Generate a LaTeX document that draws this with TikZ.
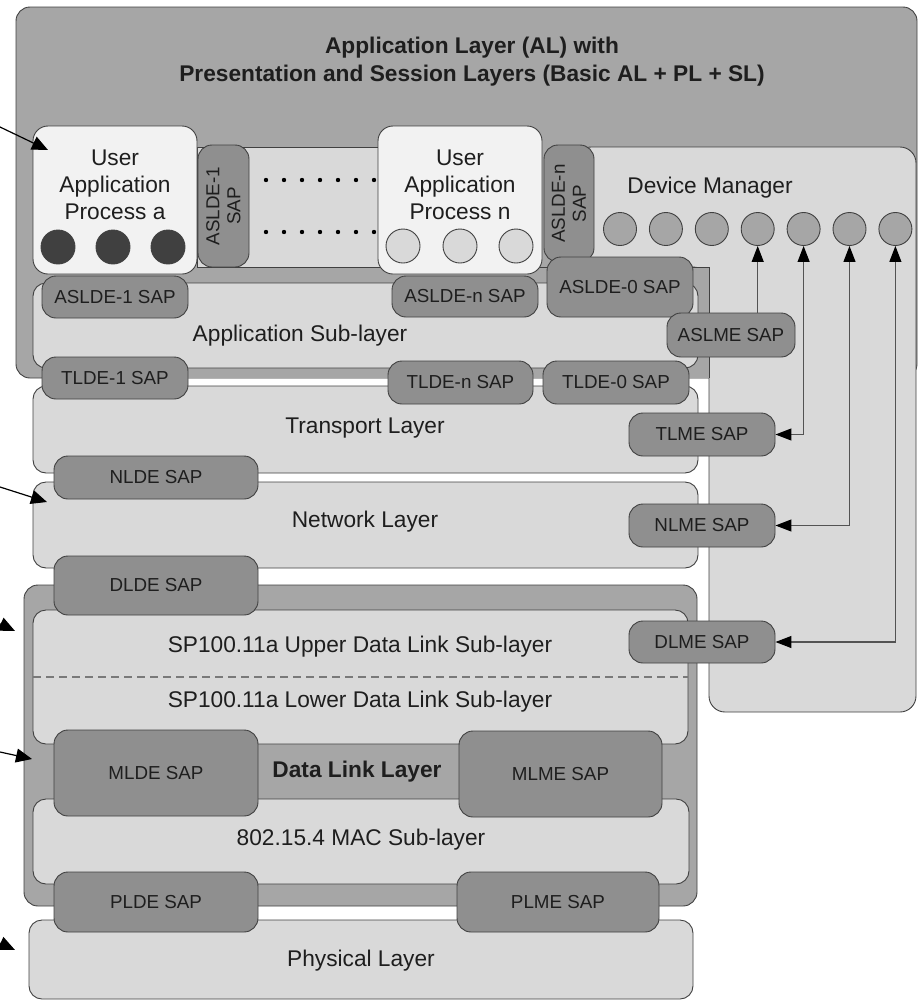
\documentclass[tikz,border=0pt]{standalone}
\usepackage{fontspec}
\setmainfont{Liberation Sans}
\usetikzlibrary{arrows.meta,positioning}
\definecolor{algrey}{HTML}{A6A6A6}
\definecolor{lyrgrey}{HTML}{D9D9D9}
\definecolor{sapgrey}{HTML}{8F8F8F}
\definecolor{edge}{HTML}{404040}
\definecolor{uapfill}{HTML}{F2F2F2}
\definecolor{ink}{HTML}{1E1E1E}

\begin{document}
\begin{tikzpicture}[x=1pt,y=-1pt,>={Triangle[length=16pt,width=12pt,color=black]}]
\tikzset{
  shell/.style={draw=edge, line width=0.9pt, fill=algrey, rounded corners=14pt},
  lyr/.style={draw=edge, line width=0.9pt, fill=lyrgrey, rounded corners=13pt},
  sap/.style={draw=edge, line width=0.9pt, fill=sapgrey, rounded corners=14pt, inner sep=0pt,
    font=\fontsize{18.8}{21}\selectfont, text=ink, align=center},
  uap/.style={draw=edge, line width=0.9pt, fill=uapfill, rounded corners=15pt,
    minimum width=164pt, minimum height=148pt, inner sep=0pt},
  txt/.style={font=\fontsize{22.7}{27}\selectfont, text=ink, align=center, inner sep=0pt},
  hd/.style={font=\bfseries\fontsize{22.7}{28}\selectfont, text=ink, align=center, inner sep=0pt},
  blob/.style={circle, draw=edge, line width=0.9pt, minimum size=34pt, inner sep=0pt},
  mgmt/.style={<->, draw=edge!90!white, line width=1.1pt},
  mgmtup/.style={->, draw=edge!90!white, line width=1.1pt},
  ptr/.style={-{Triangle[length=16pt,width=14pt]}, line width=1.2pt}
}
\useasboundingbox (0,0) rectangle (918,1002);
\clip (0,0) rectangle (918,1002);
% ---------- application layer shell ----------
\draw[shell] (16,7) rectangle (917,378);
\node[hd] (altitle) at (472,62) {Application Layer (AL) with\\Presentation and Session Layers (Basic AL + PL + SL)};
% ---------- device manager ----------
\draw[lyr, rounded corners=16pt] (575,267) -- (575,147) -- (916,147) -- (916,712) -- (709,712) -- (709,267) -- cycle;
\fill[algrey] (120,267) rectangle (709,378);
\draw[draw=edge, line width=0.9pt] (197,267) -| (709,378);
\draw[lyr, sharp corners] (197,147) rectangle (385,267);
\foreach \row in {180,232} \foreach \k in {0,...,6}
  \fill (266+18*\k,\row) circle (2.2);
% ---------- layers ----------
\draw[lyr] (33,283) rectangle (698,368);
\draw[lyr] (33,386) rectangle (698,473);
\draw[lyr] (33,482) rectangle (698,568);
\draw[shell] (24,585) rectangle (697,906);
\draw[lyr] (33,610) rectangle (688,744);
\draw[draw=edge!70!white, line width=1.6pt, dash pattern=on 8pt off 5pt] (33,677) -- (688,677);
\draw[lyr] (33,799) rectangle (689,884);
\draw[lyr] (29,920) rectangle (693,999);
\node[txt] (asltext) at (300,336) {Application Sub-layer};
\node[txt] (tltext) at (365,428) {Transport Layer};
\node[txt] (nltext) at (365,522) {Network Layer};
\node[txt] (udltext) at (360,647) {SP100.11a Upper Data Link Sub-layer};
\node[txt] (ldltext) at (360,702) {SP100.11a Lower Data Link Sub-layer};
\node[hd] (dlltext) at (357,772) {Data Link Layer};
\node[txt] (mactext) at (361,840) {802.15.4 MAC Sub-layer};
\node[txt] (phytext) at (361,961) {Physical Layer};
% ---------- user application processes ----------
\node[uap] (uapa) at (115,200) {};
\node[txt] (uapatext) at (115,185) {User\\Application\\Process a};
\foreach \x [count=\i] in {58,113,168}
  \node[blob, fill=edge] (ua\i) at (\x,247) {};
\node[uap] (uapn) at (460,200) {};
\node[txt] (uapntext) at (460,185) {User\\Application\\Process n};
\foreach \x [count=\i] in {403,460,516}
  \node[blob, fill=lyrgrey] (un\i) at (\x,246) {};
% ---------- service access points ----------
\node[sap, rotate=90, minimum width=122pt, minimum height=51pt] (aslde1v) at (223.5,206) {ASLDE-1\\SAP};
\node[sap, rotate=90, minimum width=117pt, minimum height=50pt] (asldenv) at (569,203.5) {ASLDE-n\\SAP};
\node[sap, minimum width=146pt, minimum height=42pt] (aslde1) at (115,297) {ASLDE-1 SAP};
\node[sap, minimum width=146pt, minimum height=41pt] (asldeN) at (465,296.5) {ASLDE-n SAP};
\node[sap, minimum width=146pt, minimum height=60pt] (aslde0) at (620,287) {ASLDE-0 SAP};
\node[sap, minimum width=128pt, minimum height=44pt] (aslme) at (731,335) {ASLME SAP};
\node[sap, minimum width=146pt, minimum height=42pt] (tlde1) at (115,378) {TLDE-1 SAP};
\node[sap, minimum width=145pt, minimum height=43pt] (tldeN) at (460.5,382.5) {TLDE-n SAP};
\node[sap, minimum width=146pt, minimum height=43pt] (tlde0) at (616,382.5) {TLDE-0 SAP};
\node[sap, minimum width=146pt, minimum height=43pt] (tlme) at (702,434.5) {TLME SAP};
\node[sap, minimum width=146pt, minimum height=43pt] (nlme) at (702,525.5) {NLME SAP};
\node[sap, minimum width=146pt, minimum height=42pt] (dlme) at (702,642) {DLME SAP};
\node[sap, minimum width=204pt, minimum height=43pt] (nlde) at (156,477.5) {NLDE SAP};
\node[sap, minimum width=204pt, minimum height=59pt] (dlde) at (156,585.5) {DLDE SAP};
\node[sap, minimum width=204pt, minimum height=86pt] (mlde) at (156,773) {MLDE SAP};
\node[sap, minimum width=203pt, minimum height=86pt] (mlme) at (560.5,774) {MLME SAP};
\node[sap, minimum width=204pt, minimum height=60pt] (plde) at (156,902) {PLDE SAP};
\node[sap, minimum width=202pt, minimum height=60pt] (plme) at (558,902) {PLME SAP};
% ---------- device manager objects ----------
\node[txt] (dmtext) at (710,188) {Device Manager};
\foreach \i in {1,...,7}
  \node[blob, fill=algrey, minimum size=33pt] (dm\i) at (574.1+45.9*\i,229) {};
\draw[mgmtup] (dm4 |- aslme.north) -- (dm4);
\foreach \c/\s in {5/tlme,6/nlme,7/dlme}
  \draw[mgmt] (dm\c) |- (\s);
% ---------- pointers from the left ----------
\coordinate (p1s) at (0,127);   \coordinate (p1e) at (48,150);
\coordinate (p2s) at (0,487);   \coordinate (p2e) at (47,502);
\coordinate (p3s) at (-40,605); \coordinate (p3e) at (15,631);
\coordinate (p4s) at (0,752);   \coordinate (p4e) at (32,759);
\coordinate (p5s) at (-40,925); \coordinate (p5e) at (15,950);
\foreach \n in {1,...,5}
  \draw[ptr] (p\n s) -- (p\n e);
\end{tikzpicture}
\end{document}
